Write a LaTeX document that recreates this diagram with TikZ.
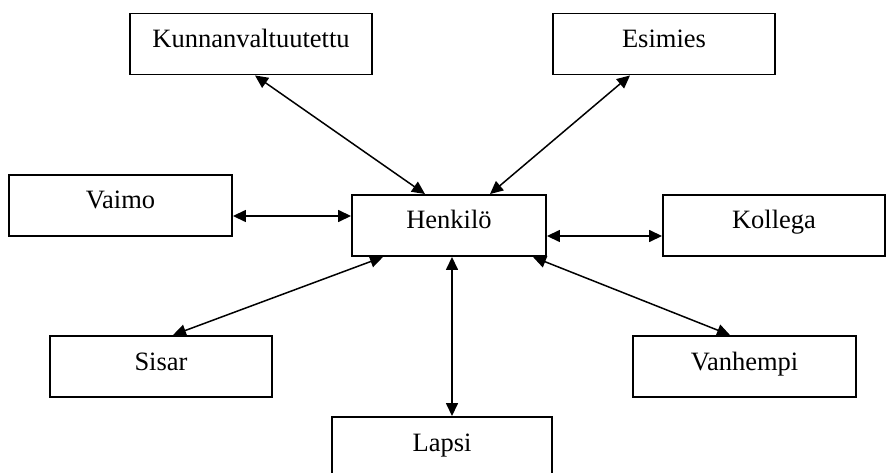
\documentclass[tikz,border=0pt]{standalone}
\usepackage{fontspec}
\setmainfont{Liberation Serif}
\usetikzlibrary{arrows.meta}
\begin{document}
\begin{tikzpicture}[x=1pt,y=-1pt,
  relbox/.style={draw=black, line width=1.9pt, rectangle, inner sep=0pt,
    text height=34pt, text depth=27pt, anchor=center,
    font=\fontsize{26.5}{30}\selectfont},
  link/.style={line width=1.5pt,
    {Triangle[length=13pt,width=12pt]}-{Triangle[length=13pt,width=12pt]}}]
  \useasboundingbox (0,0) rectangle (886,473);
  \clip (0,0) rectangle (886,473);
  % people around the central person
  \node[relbox, minimum width=242pt] (kunta)   at (251,44)    {Kunnanvaltuutettu};
  \node[relbox, minimum width=222pt] (esimies) at (664,44)    {Esimies};
  \node[relbox, minimum width=223pt] (vaimo)   at (120.5,205.5) {Vaimo};
  \node[relbox, minimum width=194pt] (henk)    at (449,225.5) {Henkilö};
  \node[relbox, minimum width=222pt] (kollega) at (774,225.5) {Kollega};
  \node[relbox, minimum width=222pt] (sisar)   at (161,366.5) {Sisar};
  \node[relbox, minimum width=223pt] (vanh)    at (744.5,366.5) {Vanhempi};
  \node[relbox, minimum width=220pt] (lapsi)   at (442,447.5) {Lapsi};
  % two-way relations
  \draw[link] ([xshift=4pt]kunta.south)     -- ([xshift=-24pt]henk.north);
  \draw[link] ([xshift=-34pt]esimies.south) -- ([xshift=41pt]henk.north);
  \draw[link] ([yshift=-10.5pt]vaimo.east)  -- ([yshift=9.5pt]henk.west);
  \draw[link] ([yshift=-10.5pt]henk.east)   -- ([yshift=-10.5pt]kollega.west);
  \draw[link] ([xshift=12pt]sisar.north)    -- ([xshift=-66pt]henk.south);
  \draw[link] ([xshift=10pt]lapsi.north)    -- ([xshift=3pt]henk.south);
  \draw[link] ([xshift=-14.5pt]vanh.north)  -- ([xshift=84pt]henk.south);
\end{tikzpicture}
\end{document}
